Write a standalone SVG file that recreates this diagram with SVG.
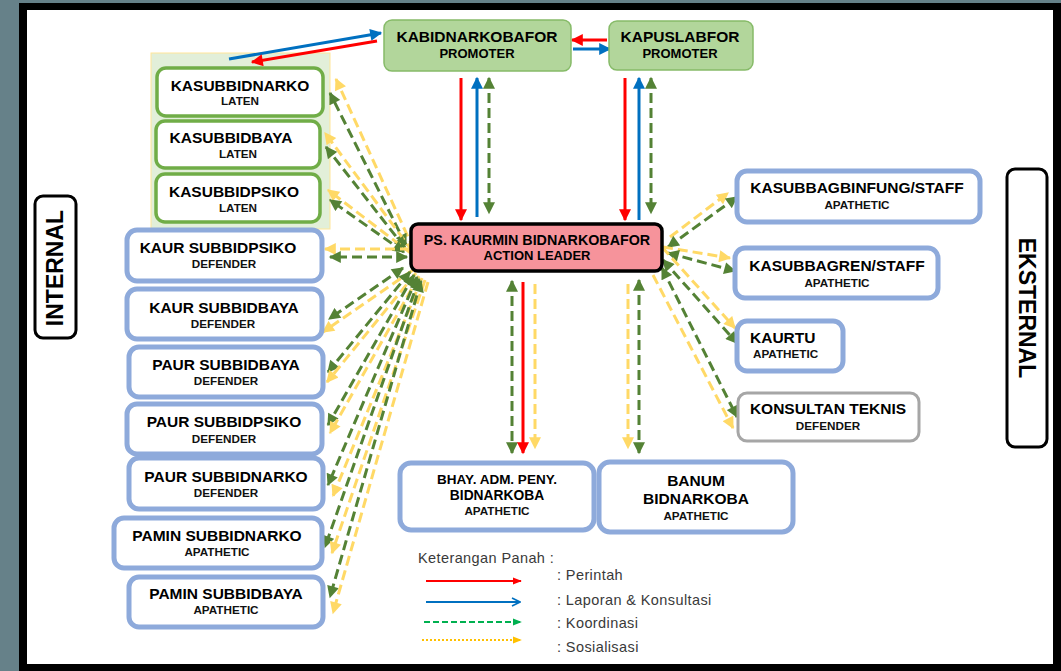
<svg xmlns="http://www.w3.org/2000/svg" width="1061" height="671" viewBox="0 0 1061 671">
<style>
.t{font-family:"Liberation Sans",Arial,sans-serif;font-weight:bold;fill:#000;text-anchor:middle}
.m{font-size:15.5px}
.s{font-size:11.7px;fill:#111}
.lg{font-family:"Liberation Sans",Arial,sans-serif;font-size:14.5px;fill:#3a3a3a}
.bl{fill:#fff;stroke:#8eaadb;stroke-width:5}
.gr{fill:#fff;stroke:#70ad47;stroke-width:3.5}
.tp{fill:#b2d69b;stroke:#86bb68;stroke-width:1.5}
.r{stroke:#ff0000;stroke-width:3;marker-end:url(#aR)}
.b{stroke:#0070c0;stroke-width:3;marker-end:url(#aB)}
.g{stroke:#548235;stroke-width:3;stroke-dasharray:10 5;marker-end:url(#aG);marker-start:url(#aG)}
.y{stroke:#ffd966;stroke-width:3;stroke-dasharray:10 5;marker-end:url(#aY)}
</style>
<defs>
<marker id="aR" viewBox="0 0 10 10" refX="9" refY="5" markerWidth="13" markerHeight="12" markerUnits="userSpaceOnUse" orient="auto-start-reverse"><path d="M0,0L10,5L0,10z" fill="#ff0000"/></marker>
<marker id="aB" viewBox="0 0 10 10" refX="9" refY="5" markerWidth="13" markerHeight="12" markerUnits="userSpaceOnUse" orient="auto-start-reverse"><path d="M0,0L10,5L0,10z" fill="#0070c0"/></marker>
<marker id="aG" viewBox="0 0 10 10" refX="9" refY="5" markerWidth="13" markerHeight="12" markerUnits="userSpaceOnUse" orient="auto-start-reverse"><path d="M0,0L10,5L0,10z" fill="#548235"/></marker>
<marker id="aY" viewBox="0 0 10 10" refX="9" refY="5" markerWidth="13" markerHeight="12" markerUnits="userSpaceOnUse" orient="auto-start-reverse"><path d="M0,0L10,5L0,10z" fill="#ffd966"/></marker>
<marker id="lR" viewBox="0 0 10 10" refX="9" refY="5" markerWidth="9" markerHeight="9" markerUnits="userSpaceOnUse" orient="auto"><path d="M0,1L10,5L0,9z" fill="#ff0000"/></marker>
<marker id="lB" viewBox="0 0 10 10" refX="9" refY="5" markerWidth="10" markerHeight="10" markerUnits="userSpaceOnUse" orient="auto"><path d="M1,1L9,5L1,9" fill="none" stroke="#0070c0" stroke-width="1.6"/></marker>
<marker id="lG" viewBox="0 0 10 10" refX="9" refY="5" markerWidth="9" markerHeight="9" markerUnits="userSpaceOnUse" orient="auto"><path d="M0,1L10,5L0,9z" fill="#00b050"/></marker>
<marker id="lY" viewBox="0 0 10 10" refX="9" refY="5" markerWidth="9" markerHeight="9" markerUnits="userSpaceOnUse" orient="auto"><path d="M0,1L10,5L0,9z" fill="#ffc000"/></marker>
</defs>
<rect x="0" y="0" width="1061" height="671" fill="#668189"/>
<rect x="19" y="3" width="1042" height="668" fill="#000"/>
<rect x="27" y="10" width="1026" height="654" fill="#fff"/>
<rect x="151" y="53" width="179" height="176" fill="#e2efd9" stroke="#ffe699" stroke-width="1"/>

<g id="connectors" fill="none">
<line class="r" x1="461" y1="78" x2="461" y2="220"/>
<line class="b" x1="477" y1="217" x2="477" y2="78"/>
<line class="g" x1="489" y1="78" x2="489" y2="213"/>
<line class="r" x1="625" y1="78" x2="625" y2="220"/>
<line class="b" x1="639" y1="220" x2="639" y2="78"/>
<line class="g" x1="651" y1="78" x2="651" y2="213"/>
<line class="r" x1="607" y1="40" x2="572" y2="40"/>
<line class="b" x1="573" y1="49" x2="610" y2="49"/>
<line class="b" x1="229" y1="59" x2="381" y2="33"/>
<line class="r" x1="377" y1="41" x2="252" y2="62"/>
<line class="y" x1="414" y1="250" x2="336" y2="79"/>
<line class="g" x1="406" y1="245" x2="330" y2="93"/>
<line class="y" x1="413" y1="252" x2="325" y2="133"/>
<line class="g" x1="405" y1="248" x2="326" y2="147"/>
<line class="y" x1="412" y1="254" x2="328" y2="190"/>
<line class="g" x1="404" y1="252" x2="330" y2="200"/>
<line class="y" x1="410" y1="249" x2="325" y2="249"/>
<line class="g" x1="407" y1="257" x2="330" y2="257"/>
<line class="g" x1="403" y1="268" x2="329" y2="319"/>
<line class="y" x1="413" y1="270" x2="323" y2="332"/>
<line class="g" x1="410" y1="272" x2="328" y2="372"/>
<line class="y" x1="416" y1="273" x2="327" y2="382"/>
<line class="g" x1="414" y1="275" x2="328" y2="425"/>
<line class="y" x1="419" y1="276" x2="330" y2="433"/>
<line class="g" x1="417" y1="277" x2="328" y2="485"/>
<line class="y" x1="422" y1="278" x2="333" y2="496"/>
<line class="g" x1="419" y1="279" x2="325" y2="547"/>
<line class="y" x1="425" y1="280" x2="332" y2="553"/>
<line class="g" x1="421" y1="281" x2="330" y2="597"/>
<line class="y" x1="428" y1="282" x2="333" y2="613"/>
<line class="g" x1="512" y1="281" x2="512" y2="453"/>
<line class="r" x1="523" y1="282" x2="523" y2="453"/>
<line class="y" x1="535" y1="284" x2="535" y2="448"/>
<line class="y" x1="628" y1="284" x2="628" y2="448"/>
<line class="g" x1="639" y1="280" x2="639" y2="453"/>
<line class="y" x1="670" y1="237" x2="728" y2="193"/>
<line class="g" x1="668" y1="247" x2="737" y2="197"/>
<line class="y" x1="663" y1="247" x2="730" y2="258"/>
<line class="g" x1="668" y1="253" x2="735" y2="271"/>
<line class="y" x1="662" y1="247" x2="735" y2="328"/>
<line class="g" x1="663" y1="260" x2="737" y2="343"/>
<line class="y" x1="653" y1="275" x2="733" y2="428"/>
<line class="g" x1="662" y1="268" x2="737" y2="417"/>
</g>

<g id="kabidnarkobafor"><rect class="tp" x="384" y="20" width="187" height="51" rx="8"/><text class="t m" x="477" y="42">KABIDNARKOBAFOR</text><text class="t" x="477" y="58" font-size="13">PROMOTER</text></g>
<g id="kapuslabfor"><rect class="tp" x="609" y="21" width="144" height="49" rx="8"/><text class="t m" x="680" y="42">KAPUSLABFOR</text><text class="t" x="680" y="58" font-size="13">PROMOTER</text></g>

<g id="kasubbidnarko"><rect class="gr" x="157" y="68" width="166" height="48" rx="9"/><text class="t m" x="240" y="91">KASUBBIDNARKO</text><text class="t s" x="240" y="105">LATEN</text></g>
<g id="kasubbidbaya"><rect class="gr" x="156" y="121" width="164" height="47" rx="9"/><text class="t m" x="231" y="143">KASUBBIDBAYA</text><text class="t s" x="238" y="158">LATEN</text></g>
<g id="kasubbidpsiko"><rect class="gr" x="156" y="174" width="164" height="48" rx="9"/><text class="t m" x="234" y="197">KASUBBIDPSIKO</text><text class="t s" x="238" y="212">LATEN</text></g>

<g id="kaur-subbidpsiko"><rect class="bl" x="127" y="230" width="195" height="51" rx="10"/><text class="t m" x="218" y="253">KAUR SUBBIDPSIKO</text><text class="t s" x="224" y="268">DEFENDER</text></g>
<g id="kaur-subbidbaya"><rect class="bl" x="127" y="289" width="195" height="50" rx="10"/><text class="t m" x="224" y="313">KAUR SUBBIDBAYA</text><text class="t s" x="223" y="328">DEFENDER</text></g>
<g id="paur-subbidbaya"><rect class="bl" x="129" y="347" width="194" height="50" rx="10"/><text class="t m" x="226" y="370">PAUR SUBBIDBAYA</text><text class="t s" x="226" y="385">DEFENDER</text></g>
<g id="paur-subbidpsiko"><rect class="bl" x="127" y="404" width="195" height="50" rx="10"/><text class="t m" x="224" y="427">PAUR SUBBIDPSIKO</text><text class="t s" x="224" y="443">DEFENDER</text></g>
<g id="paur-subbidnarko"><rect class="bl" x="129" y="458" width="194" height="51" rx="10"/><text class="t m" x="226" y="482">PAUR SUBBIDNARKO</text><text class="t s" x="226" y="497">DEFENDER</text></g>
<g id="pamin-subbidnarko"><rect class="bl" x="114" y="518" width="208" height="50" rx="10"/><text class="t m" x="217" y="541">PAMIN SUBBIDNARKO</text><text class="t s" x="217" y="556">APATHETIC</text></g>
<g id="pamin-subbidbaya"><rect class="bl" x="129" y="577" width="194" height="50" rx="10"/><text class="t m" x="226" y="599">PAMIN SUBBIDBAYA</text><text class="t s" x="226" y="614">APATHETIC</text></g>

<g id="action-leader"><rect x="411" y="224" width="251" height="47" rx="7" fill="#f6939b" stroke="#000" stroke-width="3.5"/><text class="t" x="537" y="245" font-size="14.3">PS. KAURMIN BIDNARKOBAFOR</text><text class="t" x="537" y="260" font-size="13">ACTION LEADER</text></g>

<g id="kasubbagbinfung"><rect class="bl" x="737" y="171" width="243" height="51" rx="10"/><text class="t m" x="857" y="193">KASUBBAGBINFUNG/STAFF</text><text class="t s" x="857" y="209">APATHETIC</text></g>
<g id="kasubbagren"><rect class="bl" x="735" y="248" width="203" height="50" rx="10"/><text class="t m" x="837" y="271">KASUBBAGREN/STAFF</text><text class="t s" x="837" y="287">APATHETIC</text></g>
<g id="kaurtu"><rect class="bl" x="737" y="321" width="106" height="50" rx="10"/><text class="t m" x="750" y="343" style="text-anchor:start">KAURTU</text><text class="t s" x="753" y="358" style="text-anchor:start">APATHETIC</text></g>
<g id="konsultan-teknis"><rect x="738" y="393" width="181" height="48" rx="9" fill="#fff" stroke="#a6a6a6" stroke-width="3"/><text class="t m" x="828" y="414">KONSULTAN TEKNIS</text><text class="t s" x="828" y="430">DEFENDER</text></g>

<g id="bhay"><rect class="bl" x="400" y="463" width="194" height="67" rx="11"/><text class="t" x="497" y="484" font-size="13.5">BHAY. ADM. PENY.</text><text class="t" x="497" y="500" font-size="13.8">BIDNARKOBA</text><text class="t s" x="497" y="515">APATHETIC</text></g>
<g id="banum"><rect class="bl" x="599" y="462" width="194" height="70" rx="11"/><text class="t m" x="696" y="486">BANUM</text><text class="t m" x="696" y="504">BIDNARKOBA</text><text class="t s" x="696" y="520">APATHETIC</text></g>

<g id="internal"><rect x="35" y="196" width="41" height="142" rx="8" fill="#fff" stroke="#000" stroke-width="3"/><text class="t" x="55" y="276" font-size="23" transform="rotate(-90 55 268)">INTERNAL</text></g>
<g id="eksternal"><rect x="1007" y="169" width="40" height="278" rx="8" fill="#fff" stroke="#000" stroke-width="3"/><text class="t" x="1027" y="316" font-size="23" transform="rotate(90 1027 308)">EKSTERNAL</text></g>

<g id="legend">
<text class="lg" x="418" y="563" letter-spacing="0.4">Keterangan Panah :</text>
<line x1="426" y1="581" x2="521" y2="581" stroke="#ff0000" stroke-width="2" marker-end="url(#lR)"/>
<line x1="426" y1="602" x2="520" y2="602" stroke="#0070c0" stroke-width="2" marker-end="url(#lB)"/>
<line x1="424" y1="622" x2="521" y2="622" stroke="#00b050" stroke-width="2" stroke-dasharray="6 3" marker-end="url(#lG)"/>
<line x1="422" y1="640" x2="521" y2="640" stroke="#ffc000" stroke-width="2" stroke-dasharray="2 2" marker-end="url(#lY)"/>
<text class="lg" x="557" y="580" letter-spacing="0.4">: Perintah</text>
<text class="lg" x="557" y="605" letter-spacing="0.4">: Laporan &amp; Konsultasi</text>
<text class="lg" x="557" y="628" letter-spacing="0.4">: Koordinasi</text>
<text class="lg" x="557" y="652" letter-spacing="0.4">: Sosialisasi</text>
</g>
</svg>
